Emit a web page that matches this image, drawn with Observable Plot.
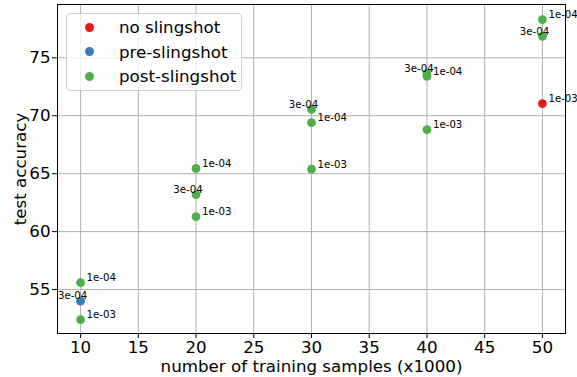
<!DOCTYPE html>
<html>
<head>
<meta charset="utf-8">
<script src="https://cdn.jsdelivr.net/npm/d3@7"></script>
<script src="https://cdn.jsdelivr.net/npm/@observablehq/plot@0.6"></script>
<style>
  body { margin: 0; background: #fff; font-family: "DejaVu Sans", sans-serif; }
  #chart { position: relative; width: 577px; height: 377px; }
  .legend {
    position: absolute; left: 66px; top: 13px; width: 174px; height: 76px;
    background: rgba(255,255,255,0.8); border: 1px solid #d0d0d0; border-radius: 4px;
    font-size: 16.7px; color: #000;
  }
  .legend .row { position: absolute; left: 0; height: 20px; display: flex; align-items: center; }
  .legend .dot { position: absolute; left: 18px; width: 9px; height: 9px; border-radius: 50%; }
  .legend .lab { position: absolute; left: 52px; white-space: nowrap; line-height: 20px; }
</style>
</head>
<body>
<div id="chart"></div>
<script>
// training set size (thousands), learning rate, final test accuracy, slingshot phase
const samples  = [10, 10, 10, 20, 20, 20, 30, 30, 30, 40, 40, 40, 50, 50, 50];
const lrs      = ["1e-04", "3e-04", "1e-03", "1e-04", "3e-04", "1e-03", "1e-04", "3e-04", "1e-03",
                  "1e-04", "3e-04", "1e-03", "1e-04", "3e-04", "1e-03"];
const accuracy = [55.6, 54.0, 52.4, 65.45, 63.2, 61.3, 69.4, 70.55, 65.4, 73.4, 73.65, 68.8, 78.3, 76.85, 71.05];
const phase    = ["post-slingshot", "pre-slingshot", "post-slingshot",
                  "post-slingshot", "post-slingshot", "post-slingshot",
                  "post-slingshot", "post-slingshot", "post-slingshot",
                  "post-slingshot", "post-slingshot", "post-slingshot",
                  "post-slingshot", "post-slingshot", "no slingshot"];

const phases = ["no slingshot", "pre-slingshot", "post-slingshot"];
const colors = ["#e41a1c", "#377eb8", "#4daf4a"];
const xTicks = [10, 15, 20, 25, 30, 35, 40, 45, 50];
const yTicks = [55, 60, 65, 70, 75];

const runs = samples.map((s, i) => ({samples: s, lr: lrs[i], acc: accuracy[i], phase: phase[i]}));
const mid = runs.filter(d => d.lr === "3e-04");
const side = runs.filter(d => d.lr !== "3e-04");

const chart = Plot.plot({
  width: 577,
  height: 377,
  marginLeft: 57,
  marginRight: 12,
  marginTop: 4,
  marginBottom: 44,
  style: {fontFamily: "DejaVu Sans, sans-serif", color: "#000", background: "#fff"},
  x: {domain: [8, 52]},
  y: {domain: [51.21, 79.6]},
  color: {domain: phases, range: colors},
  marks: [
    Plot.gridX(xTicks, {stroke: "#b0b0b0", strokeOpacity: 1, strokeWidth: 1}),
    Plot.gridY(yTicks, {stroke: "#b0b0b0", strokeOpacity: 1, strokeWidth: 1}),
    Plot.axisX(xTicks, {
      fontSize: 16.7, tickSize: 5, tickPadding: 3,
      label: "number of training samples (x1000)", labelAnchor: "center", labelArrow: "none", labelOffset: 38.5
    }),
    Plot.axisY(yTicks, {
      fontSize: 16.7, tickSize: 5, tickPadding: 2,
      label: "test accuracy", labelAnchor: "center", labelArrow: "none", labelOffset: 43
    }),
    Plot.frame({stroke: "#000", strokeWidth: 1}),
    Plot.dot(runs, {x: "samples", y: "acc", fill: "phase", r: 4.4, stroke: null}),
    Plot.text(side, {x: "samples", y: "acc", text: "lr", textAnchor: "start", dx: 6, dy: -4.5, fontSize: 10.2, fill: "#000"}),
    Plot.text(mid, {x: "samples", y: "acc", text: "lr", textAnchor: "middle", dx: -8, dy: -5, fontSize: 10.2, fill: "#000"})
  ]
});
document.getElementById("chart").appendChild(chart);

// legend box in the upper-left corner of the axes
const legend = document.createElement("div");
legend.className = "legend";
phases.forEach((p, i) => {
  const row = document.createElement("div");
  row.className = "row";
  row.style.top = (3 + i * 24.5) + "px";
  row.style.width = "100%";
  const dot = document.createElement("span");
  dot.className = "dot";
  dot.style.background = colors[i];
  const lab = document.createElement("span");
  lab.className = "lab";
  lab.textContent = p;
  row.appendChild(dot);
  row.appendChild(lab);
  legend.appendChild(row);
});
document.getElementById("chart").appendChild(legend);
</script>
</body>
</html>
